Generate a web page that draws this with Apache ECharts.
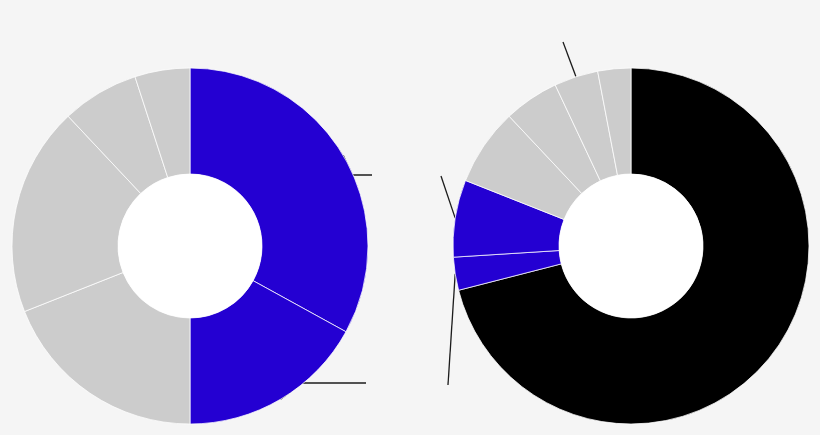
<!DOCTYPE html>
<html>
<head>
<meta charset="utf-8">
<script src="https://cdn.jsdelivr.net/npm/echarts@6/dist/echarts.min.js"></script>
<style>
  html, body { margin: 0; padding: 0; background: #f5f5f5; }
  #chart { width: 820px; height: 435px; }
</style>
</head>
<body>
<div id="chart"></div>
<script>
// ---- data (clockwise from 12 o'clock) ----
const leftCategories = ['Blue 1', 'Blue 2', 'Grey 1', 'Grey 2', 'Grey 3', 'Grey 4'];
const leftValues = [33, 17, 19, 19, 7, 5];
const leftWithLeader = ['Blue 1', 'Blue 2'];

const rightCategories = ['Black', 'Blue 2', 'Blue 1', 'Grey 1', 'Grey 2', 'Grey 3', 'Grey 4'];
const rightValues = [71, 3, 7, 7, 5, 4, 3];
const rightWithLeader = ['Blue 2', 'Blue 1', 'Grey 3'];

// ---- styles ----
const groupColors = { Blue: '#2400d2', Grey: '#cccccc', Black: '#000000' };
const LEFT_CENTER = [190, 246];
const RIGHT_CENTER = [631, 246];
const R_IN = 72, R_OUT = 178;
// leader line bends / ends, relative to each pie centre (style only)
const leaderEnds = {
  left: { 'Blue 1': [[162, -71], [182, -71]], 'Blue 2': [[112, 137], [176, 137]] },
  right: { 'Blue 1': [[-190, -70], [-190, -70]], 'Blue 2': [[-183, 139], [-183, 139]], 'Grey 3': [[-68, -204], [-68, -204]] }
};

function colorOf(name) { return groupColors[name.split(' ')[0]]; }

function buildData(cats, vals, leaders) {
  return cats.map((c, i) => {
    const on = leaders.indexOf(c) >= 0;
    return {
      name: c,
      value: vals[i],
      itemStyle: { color: colorOf(c) },
      label: { show: on },
      labelLine: { show: on }
    };
  });
}

function donut(key, center, cats, vals, leaders) {
  return {
    type: 'pie',
    center: center,
    radius: [R_IN, R_OUT],
    startAngle: 90,
    clockwise: true,
    avoidLabelOverlap: false,
    silent: true,
    animation: false,
    itemStyle: { borderColor: 'rgba(255,255,255,0.75)', borderWidth: 1 },
    label: { show: false, formatter: ' ', color: 'rgba(0,0,0,0)', fontSize: 1 },
    labelLine: { show: false, length: 10, length2: 0, lineStyle: { color: '#1c1c1c', width: 1.3 } },
    labelLayout: function (p) {
      const name = cats[p.dataIndex];
      const ends = leaderEnds[key][name];
      if (!ends || !p.labelLinePoints) return {};
      const p0 = p.labelLinePoints[0];
      return {
        labelLinePoints: [p0,
          [center[0] + ends[0][0], center[1] + ends[0][1]],
          [center[0] + ends[1][0], center[1] + ends[1][1]]]
      };
    },
    data: buildData(cats, vals, leaders)
  };
}

function hole(center) {
  return {
    type: 'pie',
    center: center,
    radius: [0, R_IN],
    silent: true,
    animation: false,
    label: { show: false },
    labelLine: { show: false },
    itemStyle: { color: '#ffffff' },
    data: [{ value: 1, name: '' }]
  };
}

const chart = echarts.init(document.getElementById('chart'), null, { renderer: 'canvas' });
chart.setOption({
  backgroundColor: '#f5f5f5',
  animation: false,
  series: [
    donut('left', LEFT_CENTER, leftCategories, leftValues, leftWithLeader),
    hole(LEFT_CENTER),
    donut('right', RIGHT_CENTER, rightCategories, rightValues, rightWithLeader),
    hole(RIGHT_CENTER)
  ]
});
</script>
</body>
</html>
